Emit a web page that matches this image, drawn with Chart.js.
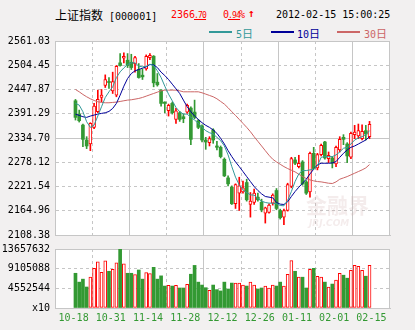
<!DOCTYPE html>
<html>
<head>
<meta charset="utf-8">
<script src="https://cdn.jsdelivr.net/npm/chart.js@4.4.1/dist/chart.umd.min.js"></script>
<style>
  body { margin: 0; background: #f2f0f0; }
  #wrap { position: relative; width: 415px; height: 330px; overflow: hidden; background: #f2f0f0; }
  canvas { position: absolute; left: 0; }
  #kline { top: 0; }
  #vol { top: 238px; }
  .t { position: absolute; white-space: nowrap; line-height: 12px; font-family: "DejaVu Sans Mono", monospace; font-size: 10px; color: #000; }
  .cjk { font-family: "Noto Sans CJK SC", sans-serif; }
  .red { color: #ff0000; }
  .sm { font-size: 8px; text-decoration: underline; letter-spacing: -0.8px; }
  .key { position: absolute; height: 2px; width: 23px; top: 31px; }
</style>
</head>
<body>
<div id="wrap">
  <div class="t" style="left:55px;top:9px;"><span class="cjk" style="font-size:12px;">上证指数</span> [000001]</div>
  <div class="t red" style="left:171px;top:9px;">2366</div>
  <div class="t red sm" style="left:194px;top:10px;">.70</div>
  <div class="t red" style="left:223px;top:9px;">0</div>
  <div class="t red sm" style="left:228px;top:10px;">.94</div>
  <div class="t red" style="left:239px;top:9px;">%</div>
  <div class="t red" style="left:248px;top:8px;font-size:11px;font-weight:bold;">↑</div>
  <div class="t" style="left:276px;top:9px;">2012-02-15 15:00:25</div>

  <div class="key" style="left:209px;background:#339999;"></div>
  <div class="t" style="left:236px;top:27px;color:#339999;">5<span class="cjk" style="font-size:11px;">日</span></div>
  <div class="key" style="left:271px;background:#000099;"></div>
  <div class="t" style="left:297px;top:27px;color:#000099;">10<span class="cjk" style="font-size:11px;">日</span></div>
  <div class="key" style="left:337px;background:#cc6666;"></div>
  <div class="t" style="left:364px;top:27px;color:#cc6666;">30<span class="cjk" style="font-size:11px;">日</span></div>

  <canvas id="kline" width="415" height="250"></canvas>
  <canvas id="vol" width="415" height="92"></canvas>
</div>
<script>
const xLabels = ["10-18", "10-31", "11-14", "11-28", "12-12", "12-26", "01-11", "02-01", "02-15"];
const priceTicks = [2108.38, 2164.96, 2221.54, 2278.12, 2334.70, 2391.29, 2447.87, 2504.45, 2561.03];
const volumeTicks = [0, 4552544, 9105088, 13657632];

const opens = [
  2421.6, 2390.5, 2364.9, 2330.0, 2320.7, 2359.5, 2396.0, 2429.3, 2457.2, 2466.5,
  2444.8, 2434.7, 2510.0, 2520.8, 2516.2, 2511.5, 2508.4, 2494.5, 2481.3, 2496.0,
  2522.4, 2525.5, 2465.0, 2446.4, 2418.5, 2398.3, 2415.4, 2378.1, 2393.6, 2384.3,
  2395.2, 2404.5, 2395.2, 2375.0, 2362.6, 2330.0, 2323.8, 2353.3, 2316.1, 2313.0,
  2285.1, 2241.6, 2219.9, 2181.2, 2206.0, 2209.1, 2230.8, 2179.6, 2184.3, 2196.7,
  2184.9, 2159.4, 2161.0, 2182.7, 2212.2, 2165.6, 2150.1, 2165.6, 2221.5, 2283.5,
  2268.0, 2278.9, 2232.3, 2209.1, 2299.0, 2264.9, 2295.9, 2325.4, 2286.6, 2288.2,
  2274.2, 2306.8, 2336.3, 2320.7, 2289.7, 2342.5, 2339.4, 2333.2, 2351.8, 2337.8
];
const highs = [
  2424.7, 2399.8, 2367.3, 2337.8, 2370.4, 2415.4, 2446.4, 2447.9, 2482.0, 2475.8,
  2488.3, 2503.8, 2531.7, 2533.2, 2531.7, 2530.1, 2525.5, 2508.4, 2496.0, 2528.6,
  2531.7, 2527.0, 2485.1, 2447.9, 2419.2, 2413.8, 2418.5, 2403.7, 2396.7, 2390.5,
  2413.8, 2407.6, 2423.1, 2378.1, 2365.7, 2336.3, 2337.8, 2356.4, 2326.9, 2316.1,
  2288.2, 2246.3, 2223.0, 2227.7, 2243.2, 2233.9, 2238.5, 2207.5, 2215.3, 2206.0,
  2192.0, 2173.4, 2181.2, 2204.4, 2216.8, 2168.7, 2168.7, 2229.2, 2289.7, 2289.7,
  2294.4, 2282.0, 2235.4, 2302.1, 2313.0, 2299.0, 2320.7, 2326.9, 2302.1, 2291.3,
  2316.1, 2337.8, 2342.5, 2323.8, 2348.7, 2364.2, 2367.3, 2365.7, 2364.2, 2373.5
];
const lows = [
  2376.6, 2371.9, 2314.5, 2309.9, 2305.2, 2356.4, 2393.6, 2419.2, 2452.6, 2450.3,
  2438.6, 2430.9, 2502.2, 2510.0, 2499.1, 2494.5, 2488.3, 2474.3, 2471.2, 2492.9,
  2517.7, 2454.1, 2455.7, 2409.2, 2393.6, 2385.9, 2390.5, 2368.8, 2373.5, 2370.4,
  2392.1, 2319.2, 2379.7, 2356.4, 2325.4, 2308.3, 2316.1, 2322.3, 2306.8, 2288.2,
  2244.7, 2223.0, 2179.6, 2170.3, 2165.6, 2206.0, 2187.4, 2150.1, 2179.6, 2187.4,
  2162.5, 2136.2, 2159.4, 2178.1, 2167.2, 2145.5, 2132.3, 2164.1, 2218.4, 2272.7,
  2264.9, 2224.6, 2202.9, 2196.7, 2261.8, 2260.3, 2292.8, 2285.1, 2277.3, 2264.9,
  2268.0, 2302.1, 2319.2, 2277.3, 2286.6, 2333.2, 2333.2, 2330.1, 2330.1, 2333.2
];
const closes = [
  2382.8, 2375.0, 2331.6, 2316.1, 2368.8, 2409.2, 2424.7, 2434.7, 2471.2, 2464.2,
  2466.5, 2502.2, 2503.8, 2525.5, 2503.8, 2499.1, 2522.4, 2475.8, 2477.4, 2525.5,
  2527.8, 2463.4, 2458.8, 2415.4, 2415.4, 2410.7, 2393.6, 2398.3, 2378.1, 2379.7,
  2410.7, 2331.6, 2382.8, 2359.5, 2330.0, 2325.4, 2333.2, 2330.0, 2313.0, 2291.3,
  2246.3, 2227.7, 2181.2, 2226.1, 2223.0, 2218.4, 2190.5, 2187.4, 2206.0, 2190.5,
  2167.2, 2171.8, 2178.1, 2201.3, 2170.3, 2148.6, 2165.6, 2226.1, 2286.6, 2275.8,
  2275.8, 2227.7, 2206.0, 2299.0, 2263.4, 2295.9, 2317.6, 2288.2, 2294.4, 2275.8,
  2313.0, 2331.6, 2331.6, 2292.8, 2345.6, 2348.7, 2351.8, 2350.2, 2344.0, 2366.7
];
const volumes = [
  8040000, 5990000, 6680000, 4860000, 7130000, 9180000, 10700000, 8270000, 10930000, 8500000,
  8950000, 10470000, 13600000, 10240000, 8040000, 8040000, 7740000, 8800000, 6680000, 8190000,
  7970000, 9410000, 6680000, 7440000, 5080000, 5240000, 5080000, 5240000, 4630000, 4630000,
  5460000, 7820000, 9860000, 5990000, 5310000, 4700000, 4100000, 5310000, 4250000, 3950000,
  5990000, 4400000, 5770000, 5770000, 5770000, 5310000, 5080000, 5990000, 5310000, 4400000,
  4630000, 5080000, 4630000, 5310000, 5080000, 5990000, 5080000, 7820000, 11000000, 8500000,
  7130000, 7130000, 4630000, 8950000, 9180000, 7360000, 7130000, 5990000, 4860000, 5540000,
  6450000, 8040000, 7590000, 6900000, 8730000, 9860000, 9640000, 8730000, 7360000, 9860000
];
const ma5 = [
  2415.4, 2411.5, 2396.0, 2372.7, 2359.5, 2364.9, 2385.9, 2407.6, 2429.3, 2442.5,
  2454.1, 2475.8, 2489.0, 2498.3, 2506.1, 2510.0, 2510.0, 2502.2, 2500.7, 2502.2,
  2506.9, 2503.8, 2491.4, 2475.8, 2455.7, 2437.1, 2421.6, 2406.0, 2396.0, 2390.5,
  2390.5, 2382.8, 2376.6, 2368.8, 2359.5, 2351.8, 2347.1, 2344.0, 2336.3, 2328.5,
  2316.1, 2295.2, 2268.0, 2243.2, 2225.4, 2213.7, 2207.5, 2202.1, 2201.3, 2193.6,
  2187.4, 2184.3, 2182.7, 2182.7, 2181.2, 2177.3, 2176.5, 2188.9, 2209.8, 2233.1,
  2250.9, 2258.7, 2258.7, 2260.3, 2261.8, 2269.6, 2289.7, 2291.3, 2291.3, 2291.3,
  2295.2, 2302.1, 2310.7, 2313.0, 2320.7, 2330.0, 2334.7, 2337.8, 2342.5, 2351.8
];
const ma10 = [
  2390.5, 2387.4, 2384.3, 2382.8, 2385.9, 2388.2, 2390.5, 2392.1, 2393.6, 2396.7,
  2403.7, 2415.4, 2434.7, 2455.7, 2473.5, 2485.1, 2491.4, 2494.5, 2497.6, 2500.7,
  2506.1, 2505.3, 2499.1, 2488.3, 2480.5, 2471.2, 2460.3, 2449.5, 2438.6, 2423.1,
  2407.6, 2396.0, 2385.9, 2378.1, 2370.4, 2364.2, 2359.5, 2353.3, 2345.6, 2333.9,
  2320.7, 2305.2, 2291.3, 2278.9, 2268.0, 2256.4, 2244.7, 2233.1, 2221.5, 2212.2,
  2204.4, 2198.2, 2196.7, 2195.1, 2184.3, 2180.4, 2179.6, 2185.8, 2198.2, 2209.8,
  2219.9, 2229.2, 2238.5, 2250.9, 2261.8, 2271.9, 2275.8, 2275.8, 2275.8, 2276.5,
  2279.6, 2289.7, 2299.0, 2306.8, 2313.0, 2316.1, 2320.7, 2325.4, 2330.0, 2337.8
];
const ma30 = [
  2447.9, 2442.5, 2436.3, 2430.9, 2426.2, 2422.3, 2419.2, 2417.7, 2416.9, 2416.9,
  2417.7, 2418.5, 2420.0, 2421.6, 2423.1, 2423.9, 2425.4, 2427.0, 2429.3, 2432.4,
  2435.5, 2438.6, 2441.7, 2444.8, 2446.4, 2446.4, 2446.4, 2446.4, 2444.8, 2442.5,
  2442.5, 2442.5, 2442.5, 2442.5, 2440.2, 2437.1, 2434.0, 2430.9, 2426.2, 2420.0,
  2413.8, 2405.3, 2396.0, 2387.4, 2378.1, 2368.8, 2359.5, 2349.4, 2337.8, 2326.9,
  2316.1, 2305.2, 2294.4, 2285.1, 2278.9, 2273.4, 2268.0, 2263.4, 2259.5, 2255.6,
  2250.2, 2244.7, 2240.1, 2237.0, 2234.7, 2233.1, 2232.3, 2230.8, 2229.2, 2228.5,
  2232.3, 2238.5, 2241.6, 2244.7, 2248.6, 2252.5, 2256.4, 2260.3, 2264.9, 2272.7
];

const UP = "#ff0000";
const DOWN = "#339933";
const GRID = "#c6c6c6";
const MONO = { family: "DejaVu Sans Mono", size: 10 };

const rising = closes.map((c, i) => c > opens[i]);
const pt = (i, y) => ({ x: i + 0.5, y });

// white plot area under the grid
const plotBg = {
  id: "plotBg",
  beforeDraw(chart) {
    const { ctx, chartArea: a } = chart;
    ctx.save();
    ctx.fillStyle = "#ffffff";
    ctx.fillRect(a.left, a.top, a.right - a.left, a.bottom - a.top);
    ctx.restore();
  }
};

// faint site logo in the lower right of the price panel
const watermark = {
  id: "watermark",
  beforeDatasetsDraw(chart) {
    const { ctx } = chart;
    ctx.save();
    ctx.fillStyle = "rgba(205,170,170,0.22)";
    ctx.font = "bold 21px 'Noto Sans CJK SC'";
    ctx.fillText("金融界", 306, 213);
    ctx.font = "italic bold 9px 'DejaVu Sans'";
    ctx.fillText("JRJ.COM", 309, 226);
    ctx.restore();
  }
};

function xAxis(showLabels) {
  return {
    type: "linear",
    min: 0,
    max: 80,
    afterBuildTicks: s => { s.ticks = xLabels.map((_, k) => ({ value: k * 10 })); },
    afterFit: s => { s.height = showLabels ? 22 : 0; },
    ticks: {
      display: showLabels,
      autoSkip: false,
      maxRotation: 0,
      padding: 4,
      color: DOWN,
      font: MONO,
      callback: v => xLabels[Math.round(v / 10)]
    },
    grid: { color: GRID, drawTicks: false },
    border: { color: GRID, dash: c => (c.tick && c.tick.value % 20 === 10) ? [3, 3] : [] }
  };
}

function yAxis(tickValues, fmt, solid) {
  return {
    min: tickValues[0],
    max: tickValues[tickValues.length - 1],
    afterBuildTicks: s => { s.ticks = tickValues.map(v => ({ value: v })); },
    afterFit: s => { s.width = 55; },
    ticks: { autoSkip: false, padding: 5, color: "#000", font: MONO, callback: fmt },
    grid: { color: GRID, drawTicks: false },
    border: { color: GRID, dash: c => (c.tick && !solid.includes(c.index)) ? [3, 3] : [] }
  };
}

const barBase = { type: "bar", grouped: false, borderSkipped: false };

new Chart(document.getElementById("kline"), {
  data: {
    datasets: [
      { type: "line", data: ma5.map((v, i) => pt(i, v)), borderColor: "#339999", borderWidth: 1, pointRadius: 0, order: 0 },
      { type: "line", data: ma10.map((v, i) => pt(i, v)), borderColor: "#000099", borderWidth: 1, pointRadius: 0, order: 0 },
      { type: "line", data: ma30.map((v, i) => pt(i, v)), borderColor: "#cc6666", borderWidth: 1, pointRadius: 0, order: 0 },
      // candle bodies: hollow red when the close is higher, solid green otherwise
      { ...barBase, order: 1, barThickness: 3, borderWidth: 1,
        data: opens.map((o, i) => pt(i, rising[i] ? [o, closes[i]] : null)),
        backgroundColor: "#ffffff", borderColor: UP },
      { ...barBase, order: 1, barThickness: 3, borderWidth: 0,
        data: opens.map((o, i) => pt(i, rising[i] ? null : [o, closes[i]])),
        backgroundColor: DOWN },
      // high-low wicks
      { ...barBase, order: 2, barThickness: 1, borderWidth: 0,
        data: lows.map((l, i) => pt(i, [l, highs[i]])),
        backgroundColor: rising.map(r => r ? UP : DOWN) }
    ]
  },
  options: {
    responsive: false,
    animation: false,
    events: [],
    layout: { padding: { top: 41, right: 25, bottom: 15, left: 0 } },
    plugins: { legend: { display: false }, tooltip: { enabled: false } },
    elements: { line: { tension: 0 } },
    scales: {
      x: xAxis(false),
      y: yAxis(priceTicks, v => v.toFixed(2), [0, 4, 8])
    }
  },
  plugins: [plotBg, watermark]
});

new Chart(document.getElementById("vol"), {
  data: {
    datasets: [
      { ...barBase, barThickness: 3, borderWidth: 1,
        data: volumes.map((v, i) => pt(i, rising[i] ? v : null)),
        backgroundColor: "#ffffff", borderColor: UP },
      { ...barBase, barThickness: 3, borderWidth: 0,
        data: volumes.map((v, i) => pt(i, rising[i] ? null : v)),
        backgroundColor: DOWN }
    ]
  },
  options: {
    responsive: false,
    animation: false,
    events: [],
    layout: { padding: { top: 10, right: 25, bottom: 0, left: 0 } },
    plugins: { legend: { display: false }, tooltip: { enabled: false } },
    scales: {
      x: xAxis(true),
      y: yAxis(volumeTicks, v => v === 0 ? "x10" : String(v), [0, 3])
    }
  },
  plugins: [plotBg]
});
</script>
</body>
</html>
